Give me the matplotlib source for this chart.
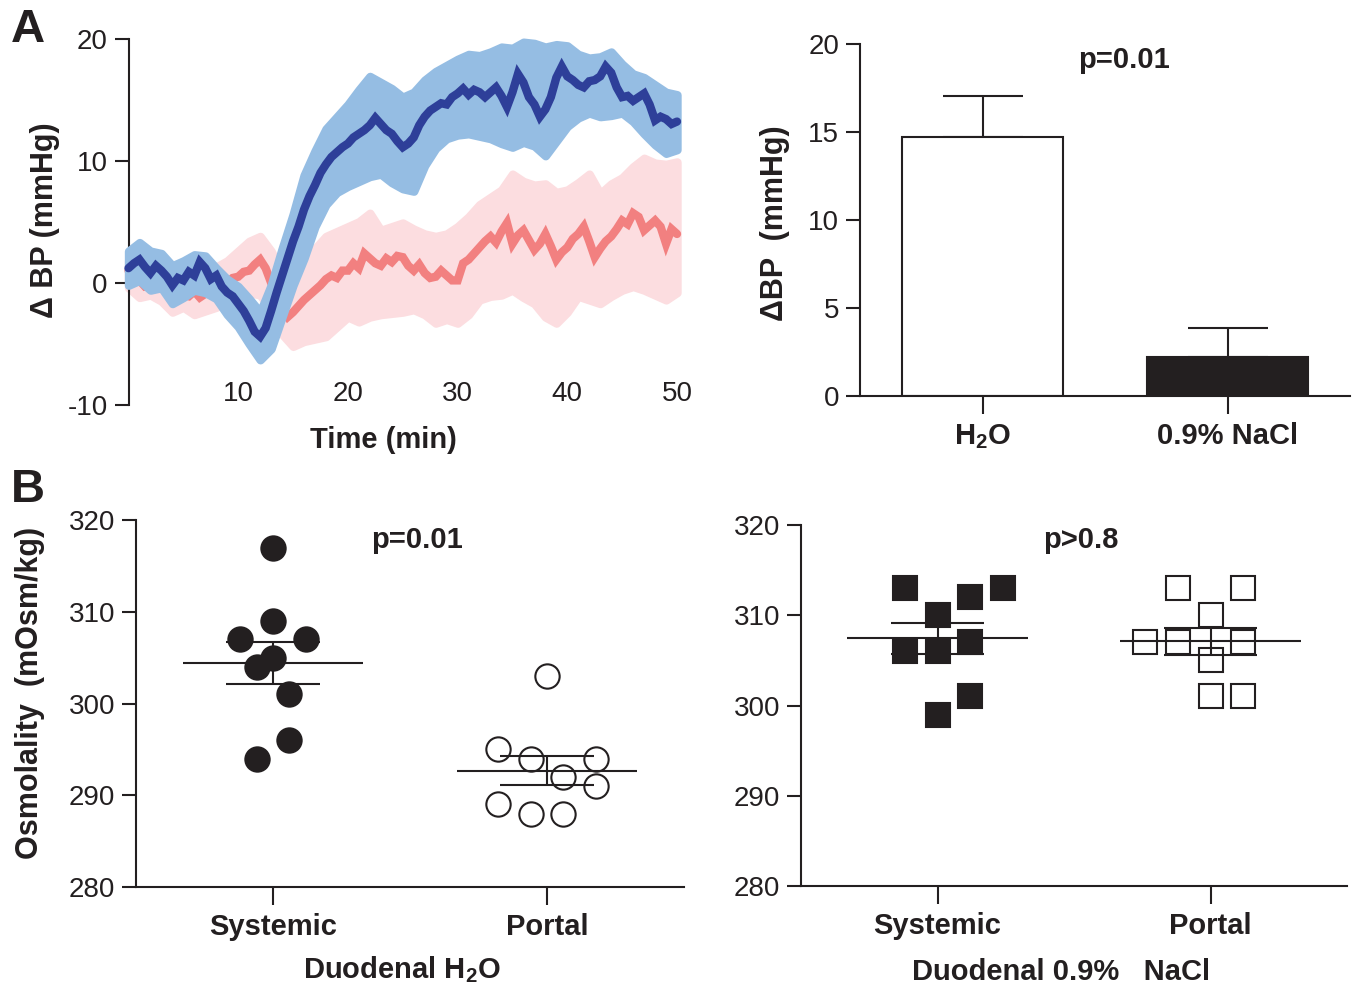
import numpy as np
import matplotlib
matplotlib.use("Agg")
import matplotlib.pyplot as plt

plt.rcParams['font.family'] = ['Liberation Sans', 'DejaVu Sans']
plt.rcParams['axes.unicode_minus'] = False
plt.rcParams['mathtext.fontset'] = 'custom'
plt.rcParams['mathtext.rm'] = 'Liberation Sans:bold'
plt.rcParams['mathtext.it'] = 'Liberation Sans:bold'
plt.rcParams['mathtext.bf'] = 'Liberation Sans:bold'

# -----------------------------------------------
# Data
# -----------------------------------------------
# panel A left: mean trace every 0.5 min, band every 1 min
t_trace = np.arange(0, 50.01, 0.5)
t_band = np.arange(0, 51, 1)

h2o_mean = [
    1.2, 1.6, 1.9, 1.3, 0.8, 1.4, 1.0, 0.5, -0.2, 0.4,
    0.2, 0.9, 0.6, 1.7, 1.2, 0.3, 0.6, -0.3, -0.8, -1.1,
    -1.7, -2.3, -3.1, -4.0, -4.4, -3.7, -2.3, -0.8, 0.6, 2.0,
    3.4, 4.6, 6.0, 7.1, 8.0, 9.0, 9.7, 10.3, 10.7, 11.1,
    11.4, 11.9, 12.2, 12.5, 12.9, 13.5, 13.0, 12.5, 12.2, 11.6,
    11.1, 11.4, 11.9, 12.9, 13.6, 14.1, 14.4, 14.7, 14.6, 15.2,
    15.5, 15.9, 15.4, 15.8, 15.6, 15.2, 15.6, 16.0, 15.3, 14.4,
    15.6, 17.1, 16.4, 15.2, 14.6, 13.6, 14.2, 15.2, 16.8, 17.7,
    16.9, 16.6, 16.2, 16.0, 16.5, 16.6, 16.9, 17.7, 17.2, 16.0,
    15.2, 15.3, 14.9, 15.2, 15.5, 14.6, 13.3, 13.6, 13.4, 13.0,
    13.2,
]
h2o_upper = [
    2.6, 3.3, 2.6, 2.4, 1.4, 1.8, 2.3, 2.2, 1.2, 0.3,
    -0.3, -1.3, -2.4, -0.2, 2.8, 5.6, 8.8, 10.8, 12.6, 13.6,
    14.6, 15.8, 16.9, 16.4, 15.9, 15.2, 15.6, 16.6, 17.3, 17.8,
    18.3, 18.7, 18.6, 18.9, 19.3, 19.2, 19.7, 19.6, 19.3, 19.5,
    19.4, 18.7, 18.4, 18.5, 18.9, 17.9, 17.1, 16.8, 16.2, 15.6,
    15.4,
]
h2o_lower = [
    -0.2, 0.2, -0.6, -0.4, -1.7, -1.2, -0.6, -0.8, -1.3, -2.6,
    -3.6, -5.0, -6.3, -5.4, -2.8, -0.2, 2.0, 4.6, 6.4, 7.4,
    7.9, 8.3, 8.7, 8.9, 8.2, 7.7, 7.5, 9.6, 11.0, 11.8,
    12.1, 12.2, 12.0, 11.8, 11.4, 11.1, 11.5, 11.2, 10.4, 11.6,
    12.8, 13.5, 13.9, 13.6, 13.7, 13.9, 13.2, 12.2, 11.3, 10.6,
    10.9,
]

nacl_mean = [
    1.0, 0.6, 0.2, -0.3, -0.2, 0.3, 0.0, -0.4, -0.6, -0.3,
    -1.0, -1.1, -0.7, -1.2, -0.9, -0.6, -0.5, -0.1, 0.0, 0.4,
    0.5, 0.9, 1.0, 1.5, 1.9, 1.2, 0.0, -1.2, -2.2, -2.8,
    -2.4, -1.9, -1.4, -1.0, -0.6, -0.2, 0.3, 0.6, 0.4, 1.0,
    1.0, 1.6, 1.2, 2.4, 2.0, 1.6, 1.4, 2.0, 1.7, 2.2,
    2.1, 1.4, 1.0, 1.5, 0.8, 0.4, 0.5, 1.0, 0.6, 0.2,
    0.2, 1.6, 1.9, 2.4, 2.9, 3.4, 3.8, 3.3, 4.2, 4.9,
    3.2, 3.9, 4.3, 3.5, 2.7, 3.2, 4.0, 3.0, 1.9, 2.5,
    2.9, 3.6, 4.0, 4.6, 3.4, 2.1, 2.8, 3.4, 3.8, 4.4,
    5.1, 4.8, 5.7, 5.4, 4.3, 4.7, 5.1, 4.6, 3.2, 4.4,
    4.0,
]
nacl_upper = [
    1.8, 1.4, 1.2, 1.6, 1.0, 0.6, 0.8, 1.0, 1.3, 1.8,
    2.6, 3.4, 3.8, 2.6, 0.8, 0.5, 1.6, 2.8, 3.8, 4.2,
    4.6, 5.0, 5.7, 4.3, 4.6, 4.9, 4.4, 4.0, 3.8, 4.0,
    4.6, 5.4, 6.4, 7.0, 7.6, 8.9, 8.3, 8.0, 8.1, 7.4,
    7.6, 8.2, 8.9, 7.3, 8.1, 8.6, 9.5, 10.2, 9.8, 9.7,
    9.9,
]
nacl_lower = [
    -0.4, -1.2, -1.0, -1.5, -2.4, -2.0, -2.6, -2.3, -2.0, -1.5,
    -1.0, -0.8, -1.0, -2.2, -4.2, -5.2, -4.8, -4.6, -4.4, -3.6,
    -2.8, -3.2, -2.8, -2.6, -2.5, -2.4, -2.2, -2.6, -3.3, -3.0,
    -3.3, -2.6, -1.4, -1.1, -1.0, -0.6, -1.2, -1.7, -2.8, -3.3,
    -2.4, -1.1, -1.4, -1.7, -1.1, -0.6, -0.3, -0.6, -1.0, -1.4,
    -0.8,
]

# panel A right: mean +/- sem
bar_labels = ["H$_2$O", "0.9% NaCl"]
bar_means = [14.7, 2.2]
bar_sems = [2.35, 1.65]

# panel B: osmolality, each animal
groups = ["Systemic", "Portal"]
h2o_systemic = [317, 309, 307, 307, 305, 304, 301, 296, 294]
h2o_portal = [303, 295, 294, 294, 292, 291, 289, 288, 288]
nacl_systemic = [313, 313, 312, 310, 307, 306, 306, 301, 299]
nacl_portal = [313, 313, 310, 307, 307, 307, 305, 301, 301]

# horizontal scatter offsets (layout only)
h2o_systemic_dx = [0, 0, -0.12, 0.12, 0, -0.06, 0.06, 0.06, -0.06]
h2o_portal_dx = [0, -0.18, -0.06, 0.18, 0.06, 0.18, -0.18, -0.06, 0.06]
nacl_systemic_dx = [-0.12, 0.24, 0.12, 0, 0.12, -0.12, 0, 0.12, 0]
nacl_portal_dx = [-0.12, 0.12, 0, -0.24, -0.12, 0.12, 0, 0, 0.12]

# -----------------------------------------------
# Style
# -----------------------------------------------
BLACK = "#231F20"
DARK_BLUE = "#2E3F99"
LIGHT_BLUE = "#95BDE3"
SALMON = "#F28080"
PINK = "#FCDDE0"
W, H = 1358, 990


def fx(px):
    return px / W


def fy(py):
    return 1 - py / H


def style_axes(ax):
    for s in ["top", "right"]:
        ax.spines[s].set_visible(False)
    for s in ["left", "bottom"]:
        ax.spines[s].set_linewidth(1.5)
        ax.spines[s].set_color(BLACK)
    ax.tick_params(axis="y", length=10, width=1.5, labelsize=20, pad=5, colors=BLACK)
    ax.tick_params(axis="x", length=13, width=1.5, labelsize=21, pad=6, colors=BLACK)


fig = plt.figure(figsize=(13.58, 9.9), dpi=100)

# -----------------------------------------------
# A left: time course
# -----------------------------------------------
ax1 = fig.add_axes([fx(128.5), fy(405), fx(554), 366.5 / H])
style_axes(ax1)
ax1.spines["bottom"].set_visible(False)

band = ax1.fill_between(t_band, nacl_lower, nacl_upper, color=PINK, lw=6, zorder=1)
band.set_joinstyle("round")
ax1.plot(t_trace, nacl_mean, color=SALMON, lw=6, solid_capstyle="round",
         solid_joinstyle="miter", zorder=2)
band = ax1.fill_between(t_band, h2o_lower, h2o_upper, color=LIGHT_BLUE, lw=6, zorder=3)
band.set_joinstyle("round")
ax1.plot(t_trace, h2o_mean, color=DARK_BLUE, lw=6, solid_capstyle="round",
         solid_joinstyle="miter", zorder=4)

ax1.set_xlim(0, 50.5)
ax1.set_ylim(-10, 20)
ax1.set_yticks([-10, 0, 10, 20])
ax1.set_xticks([10, 20, 30, 40, 50])
ax1.tick_params(axis="x", length=0, labelsize=20, pad=-17)
for c in ax1.collections:
    c.set_clip_on(False)
for l in ax1.lines:
    l.set_clip_on(False)

fig.text(fx(383), fy(440), "Time (min)", ha="center", va="center",
         fontsize=21, fontweight="bold", color=BLACK)
fig.text(fx(45), fy(220), "\u0394 BP (mmHg)", ha="center", va="center",
         rotation=90, fontsize=22, fontweight="bold", color=BLACK)

# -----------------------------------------------
# A right: bars
# -----------------------------------------------
ax2 = fig.add_axes([fx(860), fy(396), fx(490), 352 / H])
style_axes(ax2)
xb = np.arange(len(bar_means))
ax2.bar(xb, bar_means, width=0.66, color=["white", BLACK], edgecolor=BLACK,
        linewidth=1.5, zorder=2)
ax2.errorbar(xb, bar_means, yerr=[np.zeros(len(bar_sems)), bar_sems], fmt="none",
             ecolor=BLACK, elinewidth=1.5, capsize=29, capthick=1.5, zorder=1)
ax2.set_xlim(-0.5, 1.5)
ax2.set_ylim(0, 20)
ax2.set_yticks([0, 5, 10, 15, 20])
ax2.set_xticks(xb)
ax2.set_xticklabels(bar_labels, fontweight="bold")
fig.text(fx(775), fy(223), "\u0394BP  (mmHg)", ha="center", va="center",
         rotation=90, fontsize=22, fontweight="bold", color=BLACK)
fig.text(fx(1124), fy(60), "p=0.01", ha="center", va="center",
         fontsize=21, fontweight="bold", color=BLACK)


# -----------------------------------------------
# B: osmolality scatter
# -----------------------------------------------
def scatter_panel(ax, sets, offsets, marker):
    for i, (vals, dx) in enumerate(zip(sets, offsets)):
        vals = np.array(vals, dtype=float)
        xs = i + np.array(dx)
        face = BLACK if i == 0 else "white"
        ax.plot(xs, vals, ls="none", marker=marker, ms=17.5, mfc=face,
                mec=BLACK, mew=1.5, zorder=2, clip_on=False)
        m = vals.mean()
        se = vals.std(ddof=1) / np.sqrt(len(vals))
        ax.hlines(m, i - 0.33, i + 0.33, color=BLACK, lw=1.5, zorder=3)
        ax.hlines([m - se, m + se], i - 0.17, i + 0.17, color=BLACK, lw=1.5, zorder=3)
        ax.vlines(i, m - se, m + se, color=BLACK, lw=1.5, zorder=3)
    ax.set_xlim(-0.5, 1.5)
    ax.set_ylim(280, 320)
    ax.set_yticks([280, 290, 300, 310, 320])
    ax.set_xticks([0, 1])
    ax.set_xticklabels(groups, fontweight="bold")


ax3 = fig.add_axes([fx(136), fy(887), fx(548), 367 / H])
style_axes(ax3)
scatter_panel(ax3, [h2o_systemic, h2o_portal], [h2o_systemic_dx, h2o_portal_dx], "o")
fig.text(fx(30), fy(693), "Osmolality  (mOsm/kg)", ha="center", va="center",
         rotation=90, fontsize=22, fontweight="bold", color=BLACK)
fig.text(fx(417), fy(540), "p=0.01", ha="center", va="center",
         fontsize=21, fontweight="bold", color=BLACK)
fig.text(fx(402), fy(970), "Duodenal H$_2$O", ha="center", va="center",
         fontsize=21, fontweight="bold", color=BLACK)

ax4 = fig.add_axes([fx(801), fy(886), fx(546), 361 / H])
style_axes(ax4)
scatter_panel(ax4, [nacl_systemic, nacl_portal], [nacl_systemic_dx, nacl_portal_dx], "s")
fig.text(fx(1081), fy(540), "p>0.8", ha="center", va="center",
         fontsize=21, fontweight="bold", color=BLACK)
fig.text(fx(1061), fy(972), "Duodenal 0.9%   NaCl", ha="center", va="center",
         fontsize=21, fontweight="bold", color=BLACK)

# panel letters
fig.text(fx(28), fy(30), "A", ha="center", va="center", fontsize=34,
         fontweight="bold", color=BLACK)
fig.text(fx(28), fy(490), "B", ha="center", va="center", fontsize=34,
         fontweight="bold", color=BLACK)

fig.savefig("out.png", dpi=100, facecolor="white")
